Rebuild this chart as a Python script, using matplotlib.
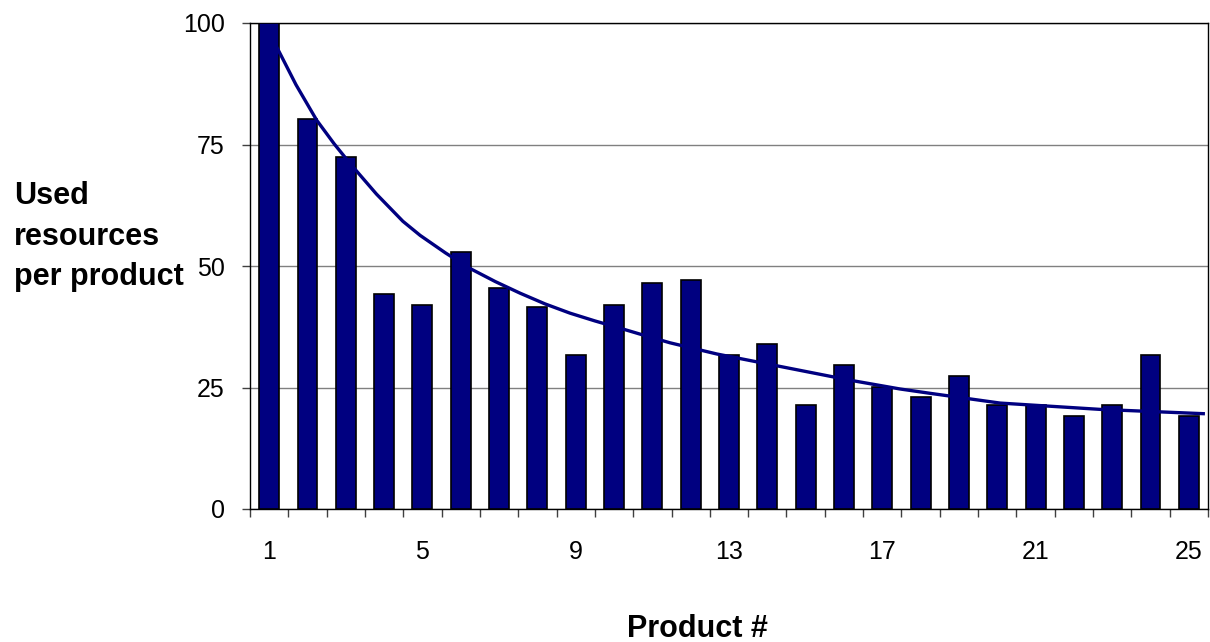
import numpy as np
import matplotlib
matplotlib.use("Agg")
import matplotlib.pyplot as plt
from matplotlib.ticker import FixedLocator

plt.rcParams['font.family'] = ['Liberation Sans', 'DejaVu Sans']

# bar values
products = list(range(1, 26))
resources = [100, 80.2, 72.5, 44.2, 42.0, 52.9, 45.5, 41.6, 31.7, 42.0,
             46.4, 47.2, 31.7, 33.9, 21.3, 29.6, 25.2, 23.0, 27.4, 21.3,
             21.3, 19.1, 21.3, 31.7, 19.1]

# trend curve (product position, value)
trend_x = [1.0, 1.24, 1.7, 2.24, 2.7, 3.11, 3.8, 4.49, 4.94, 5.6, 6.24, 6.9, 7.55, 8.2,
           8.85, 9.5, 10.16, 10.8, 11.46, 12.68, 14.42, 16.16, 17.46, 18.25, 20.07,
           22.68, 25.42]
trend_y = [97.8, 94.4, 87.3, 80.0, 75.1, 71.1, 64.8, 59.2, 56.3, 52.7, 49.5, 46.8, 44.4, 42.2,
           40.3, 38.7, 37.2, 35.7, 34.2, 31.9, 29.2, 26.5, 24.7, 23.8, 21.8,
           20.5, 19.6]

xticks = [1, 5, 9, 13, 17, 21, 25]
yticks = [0, 25, 50, 75, 100]

W, H = 1210, 642
fig = plt.figure(figsize=(W / 100, H / 100), dpi=100)
ax = fig.add_axes([250 / W, 1 - 509 / H, (1208 - 250) / W, (509 - 23) / H])

ax.bar(products, resources, width=0.52, color='#000080', edgecolor='black',
       linewidth=1.2, zorder=3)
ax.plot(trend_x, trend_y, color='#000080', linewidth=2.4, zorder=4,
        solid_capstyle='butt', solid_joinstyle='round')

ax.set_xlim(0.5, 25.5)
ax.set_ylim(0, 100)
ax.set_yticks(yticks)
ax.set_xticks(xticks)
ax.xaxis.set_minor_locator(FixedLocator(np.arange(0.5, 26, 1)))
ax.tick_params(axis='x', which='major', length=0, pad=22, labelsize=18)
ax.tick_params(axis='x', which='minor', length=6, width=1, color='#404040', direction='out')
ax.tick_params(axis='y', length=6, width=1, color='#404040', pad=12, labelsize=18)

ax.grid(axis='y', color='#808080', linewidth=1, zorder=0)
ax.set_axisbelow(True)
for s in ax.spines.values():
    s.set_color('black')
    s.set_linewidth(1)

# y label, three left-aligned lines
for txt, base in zip(['Used', 'resources', 'per product'], [204, 245, 285]):
    fig.text(14 / W, 1 - base / H, txt, fontsize=22, fontweight='bold',
             ha='left', va='baseline')
fig.text(697 / W, 1 - 637 / H, 'Product #', fontsize=22, fontweight='bold',
         ha='center', va='baseline')

fig.savefig('out.png', dpi=100)
